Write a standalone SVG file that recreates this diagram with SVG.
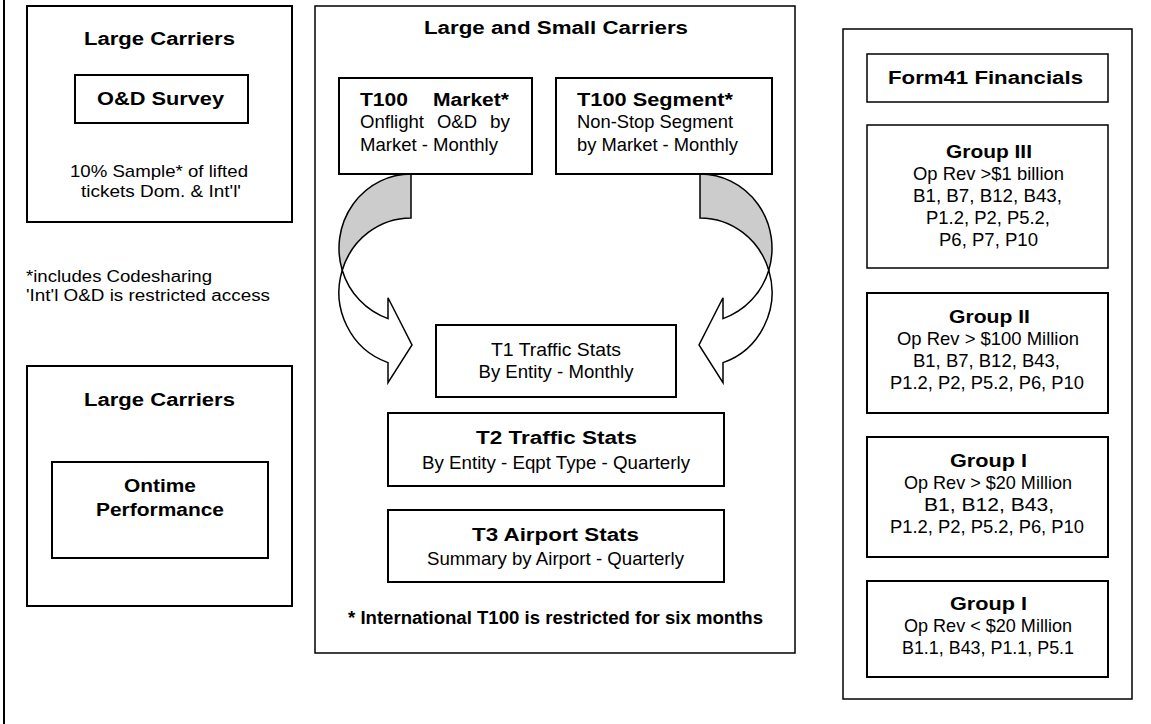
<svg xmlns="http://www.w3.org/2000/svg" width="1151" height="724" viewBox="0 0 1151 724">
  <style>
    .box { fill: #ffffff; stroke: #000000; stroke-width: 2; }
    .thin { stroke-width: 1.5; }
    .b { font-family: "Liberation Sans", Arial, sans-serif; font-weight: bold; font-size: 18px; fill: #000000; }
    .r { font-family: "Liberation Sans Narrow", "Liberation Sans", Arial, sans-serif; font-size: 19px; fill: #000000; }
    .s { font-size: 17px; }
    .xs { font-size: 16px; }
    .shade { fill: #cccccc; stroke: #000000; stroke-width: 1.5; stroke-linejoin: miter; }
    .body { fill: #ffffff; stroke: #000000; stroke-width: 1.5; stroke-linejoin: miter; }
  </style>
  <defs>
    <!-- curved arrow: shaded back of the band on top, white band with head below -->
    <g id="curvedArrow">
      <path class="shade" d="M411,174 A72,74.25 0 0 0 342.23,270.25 A72,74.25 0 0 1 411,218 Z"/>
      <path class="body" d="M342.23,270.25 A72,74.25 0 0 0 388,318.6 L388,297.75 L412,345 L388,382.75 L388,362.6 A72,74.25 0 0 1 342.23,270.25 Z"/>
    </g>
  </defs>

  <rect width="1151" height="724" fill="#ffffff"/>
  <line x1="4" y1="0" x2="4" y2="724" stroke="#000000" stroke-width="2"/>

  <!-- O&D survey panel -->
  <g id="od-panel">
    <rect class="box" x="27" y="6" width="265" height="216"/>
    <text class="b" x="84" y="45" textLength="151" lengthAdjust="spacingAndGlyphs">Large Carriers</text>
    <rect class="box" x="75" y="75" width="173" height="48"/>
    <text class="b" x="97" y="105" textLength="127" lengthAdjust="spacingAndGlyphs">O&amp;D Survey</text>
    <text class="r s" x="70" y="177" textLength="178" lengthAdjust="spacingAndGlyphs">10% Sample* of lifted</text>
    <text class="r s" x="81" y="197" textLength="160" lengthAdjust="spacingAndGlyphs">tickets Dom. &amp; Int'l'</text>
  </g>

  <g id="od-notes">
    <text class="r xs" x="26" y="282" textLength="186" lengthAdjust="spacingAndGlyphs">*includes Codesharing</text>
    <text class="r xs" x="26" y="301" textLength="244" lengthAdjust="spacingAndGlyphs">'Int'l O&amp;D is restricted access</text>
  </g>

  <!-- Ontime panel -->
  <g id="ontime-panel">
    <rect class="box" x="27" y="366" width="265" height="240"/>
    <text class="b" x="84" y="406" textLength="151" lengthAdjust="spacingAndGlyphs">Large Carriers</text>
    <rect class="box" x="52" y="462" width="216" height="96"/>
    <text class="b" x="124" y="492" textLength="72" lengthAdjust="spacingAndGlyphs">Ontime</text>
    <text class="b" x="96" y="516" textLength="128" lengthAdjust="spacingAndGlyphs">Performance</text>
  </g>

  <!-- T100 / traffic panel -->
  <g id="traffic-panel">
    <rect class="box thin" x="315" y="6" width="480" height="647"/>
    <text class="b" x="424" y="34" textLength="264" lengthAdjust="spacingAndGlyphs">Large and Small Carriers</text>
  </g>

  <g id="t100-market">
    <rect class="box" x="339" y="78" width="193" height="96"/>
    <text class="b" x="360" y="106" textLength="48" lengthAdjust="spacingAndGlyphs">T100</text>
    <text class="b" x="433" y="106" textLength="76" lengthAdjust="spacingAndGlyphs">Market*</text>
    <text class="r" x="360" y="128" textLength="64" lengthAdjust="spacingAndGlyphs">Onflight</text>
    <text class="r" x="437" y="128" textLength="40" lengthAdjust="spacingAndGlyphs">O&amp;D</text>
    <text class="r" x="490" y="128" textLength="20" lengthAdjust="spacingAndGlyphs">by</text>
    <text class="r" x="360" y="151" textLength="138" lengthAdjust="spacingAndGlyphs">Market - Monthly</text>
  </g>

  <g id="t100-segment">
    <rect class="box" x="556" y="78" width="216" height="96"/>
    <text class="b" x="577" y="106" textLength="156" lengthAdjust="spacingAndGlyphs">T100 Segment*</text>
    <text class="r" x="577" y="128" textLength="156" lengthAdjust="spacingAndGlyphs">Non-Stop Segment</text>
    <text class="r" x="577" y="151" textLength="161" lengthAdjust="spacingAndGlyphs">by Market - Monthly</text>
  </g>

  <g id="t1">
    <rect class="box" x="436" y="325" width="240" height="72"/>
    <text class="r" x="491" y="356" textLength="130" lengthAdjust="spacingAndGlyphs">T1 Traffic Stats</text>
    <text class="r" x="478.5" y="378" textLength="155" lengthAdjust="spacingAndGlyphs">By Entity - Monthly</text>
  </g>

  <g id="t2">
    <rect class="box" x="388" y="413" width="336" height="73"/>
    <text class="b" x="476" y="444" textLength="161" lengthAdjust="spacingAndGlyphs">T2 Traffic Stats</text>
    <text class="r" x="422" y="469" textLength="268" lengthAdjust="spacingAndGlyphs">By Entity - Eqpt Type - Quarterly</text>
  </g>

  <g id="t3">
    <rect class="box" x="388" y="510" width="336" height="72"/>
    <text class="b" x="472" y="541" textLength="167" lengthAdjust="spacingAndGlyphs">T3 Airport Stats</text>
    <text class="r" x="427" y="565" textLength="257" lengthAdjust="spacingAndGlyphs">Summary by Airport - Quarterly</text>
  </g>

  <g id="t100-note">
    <text class="b" x="348" y="624" textLength="415" lengthAdjust="spacingAndGlyphs">* International T100 is restricted for six months</text>
  </g>

  <!-- Form 41 panel -->
  <g id="form41-panel">
    <rect class="box thin" x="843" y="29" width="289" height="670"/>
    <rect class="box thin" x="867" y="54" width="241" height="48"/>
    <text class="b" x="888" y="84" textLength="195" lengthAdjust="spacingAndGlyphs">Form41 Financials</text>
  </g>

  <g id="group-3">
    <rect class="box thin" x="867" y="125" width="241" height="143"/>
    <text class="b" x="946" y="158" textLength="86" lengthAdjust="spacingAndGlyphs">Group III</text>
    <text class="r" x="913" y="180" textLength="151" lengthAdjust="spacingAndGlyphs">Op Rev &gt;$1 billion</text>
    <text class="r" x="913" y="202" textLength="149" lengthAdjust="spacingAndGlyphs">B1, B7, B12, B43,</text>
    <text class="r" x="926" y="224" textLength="124" lengthAdjust="spacingAndGlyphs">P1.2, P2, P5.2,</text>
    <text class="r" x="939" y="246" textLength="99" lengthAdjust="spacingAndGlyphs">P6, P7, P10</text>
  </g>

  <g id="group-2">
    <rect class="box" x="867" y="293" width="241" height="120"/>
    <text class="b" x="949" y="323" textLength="81" lengthAdjust="spacingAndGlyphs">Group II</text>
    <text class="r" x="897" y="345" textLength="182" lengthAdjust="spacingAndGlyphs">Op Rev &gt; $100 Million</text>
    <text class="r" x="913" y="367" textLength="147" lengthAdjust="spacingAndGlyphs">B1, B7, B12, B43,</text>
    <text class="r" x="890" y="389" textLength="194" lengthAdjust="spacingAndGlyphs">P1.2, P2, P5.2, P6, P10</text>
  </g>

  <g id="group-1-large">
    <rect class="box" x="867" y="437" width="241" height="120"/>
    <text class="b" x="950" y="467" textLength="77" lengthAdjust="spacingAndGlyphs">Group I</text>
    <text class="r" x="904" y="489" textLength="168" lengthAdjust="spacingAndGlyphs">Op Rev &gt; $20 Million</text>
    <text class="r" x="924" y="511" textLength="130" lengthAdjust="spacingAndGlyphs">B1, B12, B43,</text>
    <text class="r" x="890" y="533" textLength="194" lengthAdjust="spacingAndGlyphs">P1.2, P2, P5.2, P6, P10</text>
  </g>

  <g id="group-1-small">
    <rect class="box" x="867" y="581" width="241" height="96"/>
    <text class="b" x="950" y="610" textLength="77" lengthAdjust="spacingAndGlyphs">Group I</text>
    <text class="r" x="904" y="632" textLength="168" lengthAdjust="spacingAndGlyphs">Op Rev &lt; $20 Million</text>
    <text class="r" x="902" y="654" textLength="172" lengthAdjust="spacingAndGlyphs">B1.1, B43, P1.1, P5.1</text>
  </g>

  <!-- curved arrows from T100 tables into T1 -->
  <g id="connectors">
    <use href="#curvedArrow"/>
    <use href="#curvedArrow" transform="matrix(-1 0 0 1 1111 0)"/>
  </g>
</svg>
